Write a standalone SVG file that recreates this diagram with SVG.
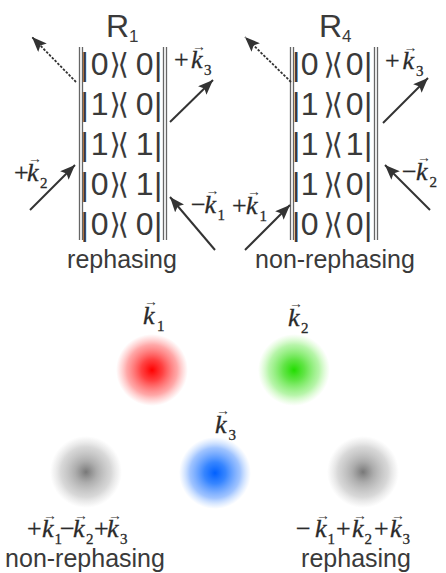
<svg xmlns="http://www.w3.org/2000/svg" width="446" height="573" viewBox="0 0 446 573">
<style>
.t{font-family:"Liberation Sans",Arial,sans-serif;fill:#3a3a3a}
.title{font-size:32px}
.tsub{font-size:17px}
.row{font-size:32px}
.br{font-family:"DejaVu Sans",sans-serif;font-size:29px}
.lab{font-size:25px}
.v{font-family:"Liberation Serif","Times New Roman",serif;font-size:26px;fill:#2a2a2a;stroke:#2a2a2a;stroke-width:0.3}
.vk{font-style:italic}
.vs{font-size:15px}
.va{font-family:"Liberation Serif","Times New Roman",serif;font-size:14px;fill:#333}
.dl{stroke:#666;stroke-width:1.3;fill:none}
.ar{stroke:#333;stroke-width:2;fill:none;marker-end:url(#ah)}
.da{stroke:#333;stroke-width:1.8;fill:none;stroke-dasharray:2.5 1.5;marker-end:url(#ah)}
</style>
<defs>
<marker id="ah" markerUnits="userSpaceOnUse" markerWidth="16" markerHeight="12" refX="15" refY="6" orient="auto">
<path d="M0,0 L15,6 L0,12 L3,6 z" fill="#333"/>
</marker>
<radialGradient id="gr"><stop offset="0" stop-color="#ff0000"/><stop offset="0.3" stop-color="#ff2020" stop-opacity="0.85"/><stop offset="0.7" stop-color="#ff5050" stop-opacity="0.5"/><stop offset="0.9" stop-color="#ff7070" stop-opacity="0.18"/><stop offset="1" stop-color="#ff8080" stop-opacity="0"/></radialGradient>
<radialGradient id="gg"><stop offset="0" stop-color="#22dd00"/><stop offset="0.3" stop-color="#3ade18" stop-opacity="0.8"/><stop offset="0.7" stop-color="#5ee840" stop-opacity="0.45"/><stop offset="0.9" stop-color="#80f060" stop-opacity="0.15"/><stop offset="1" stop-color="#90f070" stop-opacity="0"/></radialGradient>
<radialGradient id="gb"><stop offset="0" stop-color="#0060ff"/><stop offset="0.3" stop-color="#1470ff" stop-opacity="0.85"/><stop offset="0.7" stop-color="#4088ff" stop-opacity="0.5"/><stop offset="0.9" stop-color="#70a8ff" stop-opacity="0.18"/><stop offset="1" stop-color="#80b0ff" stop-opacity="0"/></radialGradient>
<radialGradient id="gk"><stop offset="0" stop-color="#787878"/><stop offset="0.3" stop-color="#8a8a8a" stop-opacity="0.7"/><stop offset="0.7" stop-color="#a8a8a8" stop-opacity="0.45"/><stop offset="0.9" stop-color="#c0c0c0" stop-opacity="0.18"/><stop offset="1" stop-color="#ccc" stop-opacity="0"/></radialGradient>
</defs>

<g id="R1">
<text class="t title" x="106" y="37">R<tspan class="tsub" dy="5">1</tspan></text>
<path class="dl" d="M79.5,47V240M82.5,47V240M163.5,47V240M166.5,47V240"/>
<g class="t row">
<text y="75"><tspan x="80.5">|</tspan><tspan x="90.7">0</tspan><tspan class="br" x="109.5" dy="-1">⟩</tspan><tspan class="br" x="117.5">⟨</tspan><tspan x="135.7" dy="1">0</tspan><tspan x="154">|</tspan></text>
<text y="115"><tspan x="80.5">|</tspan><tspan x="90.7">1</tspan><tspan class="br" x="109.5" dy="-1">⟩</tspan><tspan class="br" x="117.5">⟨</tspan><tspan x="135.7" dy="1">0</tspan><tspan x="154">|</tspan></text>
<text y="155"><tspan x="80.5">|</tspan><tspan x="90.7">1</tspan><tspan class="br" x="109.5" dy="-1">⟩</tspan><tspan class="br" x="117.5">⟨</tspan><tspan x="135.7" dy="1">1</tspan><tspan x="154">|</tspan></text>
<text y="195"><tspan x="80.5">|</tspan><tspan x="90.7">0</tspan><tspan class="br" x="109.5" dy="-1">⟩</tspan><tspan class="br" x="117.5">⟨</tspan><tspan x="135.7" dy="1">1</tspan><tspan x="154">|</tspan></text>
<text y="235"><tspan x="80.5">|</tspan><tspan x="90.7">0</tspan><tspan class="br" x="109.5" dy="-1">⟩</tspan><tspan class="br" x="117.5">⟨</tspan><tspan x="135.7" dy="1">0</tspan><tspan x="154">|</tspan></text>
</g>
<text class="t lab" x="122" y="268" text-anchor="middle">rephasing</text>
</g>

<g id="R4">
<text class="t title" x="319" y="37">R<tspan class="tsub" dy="5">4</tspan></text>
<path class="dl" d="M290.5,47V240M293.5,47V240M374.5,47V240M377.5,47V240"/>
<g class="t row">
<text y="75"><tspan x="292">|</tspan><tspan x="300.7">0</tspan><tspan class="br" x="323.5" dy="-1">⟩</tspan><tspan class="br" x="331.5">⟨</tspan><tspan x="345.7" dy="1">0</tspan><tspan x="364">|</tspan></text>
<text y="115"><tspan x="292">|</tspan><tspan x="300.7">1</tspan><tspan class="br" x="323.5" dy="-1">⟩</tspan><tspan class="br" x="331.5">⟨</tspan><tspan x="345.7" dy="1">0</tspan><tspan x="364">|</tspan></text>
<text y="155"><tspan x="292">|</tspan><tspan x="300.7">1</tspan><tspan class="br" x="323.5" dy="-1">⟩</tspan><tspan class="br" x="331.5">⟨</tspan><tspan x="345.7" dy="1">1</tspan><tspan x="364">|</tspan></text>
<text y="195"><tspan x="292">|</tspan><tspan x="300.7">1</tspan><tspan class="br" x="323.5" dy="-1">⟩</tspan><tspan class="br" x="331.5">⟨</tspan><tspan x="345.7" dy="1">0</tspan><tspan x="364">|</tspan></text>
<text y="235"><tspan x="292">|</tspan><tspan x="300.7">0</tspan><tspan class="br" x="323.5" dy="-1">⟩</tspan><tspan class="br" x="331.5">⟨</tspan><tspan x="345.7" dy="1">0</tspan><tspan x="364">|</tspan></text>
</g>
<text class="t lab" x="335" y="268" text-anchor="middle">non-rephasing</text>
</g>

<g id="connectors">
<path class="da" d="M76,82L32,37"/>
<path class="ar" d="M170,122L213,80"/>
<path class="ar" d="M30,210L75,165"/>
<path class="ar" d="M215,250L170,197"/>
<path class="da" d="M291,82L245,37"/>
<path class="ar" d="M383,123L428,78"/>
<path class="ar" d="M430,210L385,165"/>
<path class="ar" d="M245,250L290,205"/>
</g>

<g id="labels-R1">
<text class="v" x="174" y="68">+<tspan class="vk" x="191">k</tspan><tspan class="vs" x="204" dy="7">3</tspan></text>
<text class="va" x="192" y="50.5">→</text>
<text class="v" x="14" y="181">+<tspan class="vk" x="27">k</tspan><tspan class="vs" x="40" dy="7">2</tspan></text>
<text class="va" x="28" y="163">→</text>
<text class="v" x="191" y="213">−<tspan class="vk" x="204.5">k</tspan><tspan class="vs" x="217.5" dy="7">1</tspan></text>
<text class="va" x="205.5" y="195">→</text>
</g>
<g id="labels-R4">
<text class="v" x="385" y="69">+<tspan class="vk" x="402.5">k</tspan><tspan class="vs" x="416" dy="7">3</tspan></text>
<text class="va" x="403.5" y="51.5">→</text>
<text class="v" x="402" y="180">−<tspan class="vk" x="416">k</tspan><tspan class="vs" x="429.5" dy="7">2</tspan></text>
<text class="va" x="417" y="162">→</text>
<text class="v" x="232" y="214">+<tspan class="vk" x="246">k</tspan><tspan class="vs" x="259.5" dy="7">1</tspan></text>
<text class="va" x="247" y="196">→</text>
</g>

<g id="beam-k1">
<circle cx="152" cy="370" r="36" fill="url(#gr)"/>
<text class="v" x="143" y="324"><tspan class="vk">k</tspan><tspan class="vs" x="157" dy="7">1</tspan></text>
<text class="va" x="144" y="305.5">→</text>
</g>
<g id="beam-k2">
<circle cx="294" cy="370" r="36" fill="url(#gg)"/>
<text class="v" x="288" y="326"><tspan class="vk">k</tspan><tspan class="vs" x="301" dy="7">2</tspan></text>
<text class="va" x="289" y="308">→</text>
</g>
<g id="beam-k3">
<circle cx="215" cy="473" r="36" fill="url(#gb)"/>
<text class="v" x="215" y="433"><tspan class="vk">k</tspan><tspan class="vs" x="228.5" dy="7">3</tspan></text>
<text class="va" x="216" y="415">→</text>
</g>
<g id="signal-nonrephasing">
<circle cx="86" cy="472" r="36" fill="url(#gk)"/>
<text class="v" x="27" y="537">+<tspan class="vk" x="42">k</tspan><tspan class="vs" x="54.5" dy="7">1</tspan><tspan x="60" dy="-7">−</tspan><tspan class="vk" x="73">k</tspan><tspan class="vs" x="86" dy="7">2</tspan><tspan x="94" dy="-7">+</tspan><tspan class="vk" x="107">k</tspan><tspan class="vs" x="120" dy="7">3</tspan></text>
<text class="va" x="43" y="519.5">→</text><text class="va" x="74" y="519.5">→</text><text class="va" x="108" y="519.5">→</text>
<text class="t lab" x="85" y="567" text-anchor="middle">non-rephasing</text>
</g>
<g id="signal-rephasing">
<circle cx="363" cy="472" r="36" fill="url(#gk)"/>
<text class="v" x="296" y="537">−<tspan class="vk" x="315">k</tspan><tspan class="vs" x="327.5" dy="7">1</tspan><tspan x="336" dy="-7">+</tspan><tspan class="vk" x="352">k</tspan><tspan class="vs" x="364.5" dy="7">2</tspan><tspan x="374" dy="-7">+</tspan><tspan class="vk" x="390">k</tspan><tspan class="vs" x="402.5" dy="7">3</tspan></text>
<text class="va" x="316" y="519.5">→</text><text class="va" x="353" y="519.5">→</text><text class="va" x="391" y="519.5">→</text>
<text class="t lab" x="356" y="567" text-anchor="middle">rephasing</text>
</g>
</svg>
